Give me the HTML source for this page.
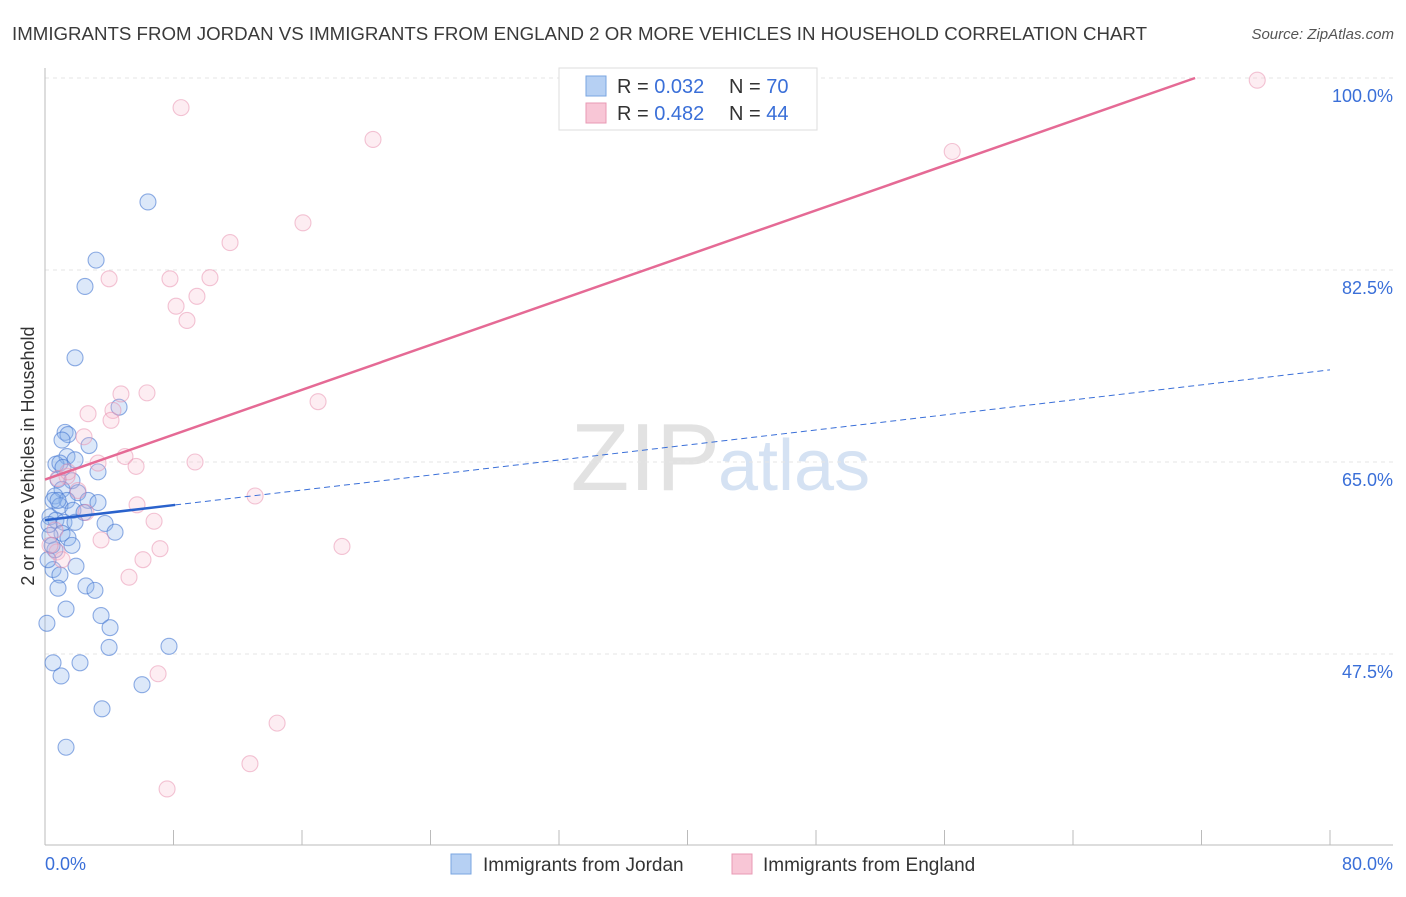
<!DOCTYPE html>
<html><head><meta charset="utf-8"><style>
body{margin:0;background:#fff;font-family:"Liberation Sans",sans-serif;}
svg text{font-family:"Liberation Sans",sans-serif;}
</style></head><body>
<svg id="c" width="1406" height="892">
<text x="12" y="40" font-size="18" fill="#3a3a3a" textLength="1135" lengthAdjust="spacingAndGlyphs">IMMIGRANTS FROM JORDAN VS IMMIGRANTS FROM ENGLAND 2 OR MORE VEHICLES IN HOUSEHOLD CORRELATION CHART</text>
<text x="1394" y="39" font-size="15" fill="#555" font-style="italic" text-anchor="end">Source: ZipAtlas.com</text>
<text x="720" y="490" font-size="96" fill="#e2e2e2" text-anchor="end" font-family="Liberation Serif">ZIP</text>
<text x="718" y="490" font-size="72" fill="#d5e2f3">atlas</text>
<g id="grid"></g><g id="axes"></g><g id="pts"></g><g id="lines"></g>
<text transform="translate(34,456) rotate(-90)" font-size="18" fill="#333" text-anchor="middle">2 or more Vehicles in Household</text>
<g>
<rect x="559" y="68" width="258" height="62" fill="#fff" stroke="#ddd"/>
<rect x="586" y="76" width="20" height="20" fill="#b6d0f3" stroke="#7aa6e0"/>
<rect x="586" y="103" width="20" height="20" fill="#f8c6d6" stroke="#e89ab4"/>
<text x="617" y="93" font-size="20" fill="#333">R = <tspan fill="#3a6fd8">0.032</tspan></text>
<text x="729" y="93" font-size="20" fill="#333">N = <tspan fill="#3a6fd8">70</tspan></text>
<text x="617" y="120" font-size="20" fill="#333">R = <tspan fill="#3a6fd8">0.482</tspan></text>
<text x="729" y="120" font-size="20" fill="#333">N = <tspan fill="#3a6fd8">44</tspan></text>
</g>
<g>
<rect x="451" y="854" width="20" height="20" fill="#b6d0f3" stroke="#7aa6e0"/>
<text x="483" y="871" font-size="19" fill="#333">Immigrants from Jordan</text>
<rect x="732" y="854" width="20" height="20" fill="#f8c6d6" stroke="#e89ab4"/>
<text x="763" y="871" font-size="19" fill="#333">Immigrants from England</text>
</g>
</svg>
<script>
const yTicks=[47.5,65.0,82.5,100.0];
const xTickLabels=["0.0%","80.0%"];
const jordanX=[6.41,3.18,2.49,1.87,4.61,1.25,1.43,1.06,2.74,1.37,1.87,0.68,0.93,3.30,0.81,1.68,1.06,2.05,0.62,1.37,0.50,2.68,3.30,0.93,1.74,2.43,0.31,0.68,1.18,1.87,0.25,3.74,4.36,1.06,0.31,1.43,1.68,0.62,1.93,0.50,0.93,2.55,0.81,3.11,1.31,3.49,4.05,0.12,7.72,3.99,0.50,2.18,1.00,6.04,3.55,1.31,0.81,0.19,0.44,1.12];
const jordanY=[88.7,83.4,81.0,74.5,70.0,67.7,67.5,67.0,66.5,65.5,65.2,64.8,64.9,64.1,63.4,63.3,62.5,62.2,61.9,61.5,61.5,61.5,61.3,61.0,60.6,60.4,60.0,59.7,59.5,59.5,59.3,59.4,58.6,58.5,58.3,58.1,57.4,57.0,55.5,55.2,54.7,53.7,53.5,53.3,51.6,51.0,49.9,50.3,48.2,48.1,46.7,46.7,45.5,44.7,42.5,39.0,61.5,56.1,57.4,64.5];
const englandX=[75.47,8.47,20.42,56.48,16.06,11.52,3.99,7.78,10.27,9.46,8.16,8.84,4.73,6.35,17.0,2.68,4.23,4.11,2.43,3.30,4.98,5.67,9.34,1.37,0.81,13.08,5.73,2.55,6.79,0.62,3.49,7.16,0.75,18.49,6.10,5.23,7.04,14.45,12.76,7.60,1.43,2.05,1.06,0.31];
const englandY=[99.8,97.3,94.4,93.3,86.8,85.0,81.7,81.7,81.8,80.1,79.2,77.9,71.2,71.3,70.5,69.4,69.7,68.8,67.3,64.9,65.5,64.6,65.0,63.7,63.5,61.9,61.1,60.4,59.6,58.8,57.9,57.1,56.8,57.3,56.1,54.5,45.7,41.2,37.5,35.2,64.1,62.4,56.1,57.4];
const jordanTrend=[59.7,73.4];
const jordanSolidEnd=8.1;
const englandTrend=[63.4,100.0,71.6];
const NS="http://www.w3.org/2000/svg";
const X=v=>45+v*(1285/80);
const Y=v=>462-(v-65)*(192/17.5);
function mk(tag,attrs,parent){const e=document.createElementNS(NS,tag);for(const k in attrs)e.setAttribute(k,attrs[k]);document.getElementById(parent).appendChild(e);return e;}
yTicks.forEach(t=>{
  const g=mk('line',{x1:45,x2:1393,y1:Y(t),y2:Y(t),stroke:'#e6e6e6','stroke-dasharray':'4,4'},'grid');
  
  
  const tx=mk('text',{x:1393,y:Y(t)+24,'font-size':18,fill:'#3a6fd8','text-anchor':'end'},'grid');
  tx.textContent=t.toFixed(1)+'%';
  
  
});
const ax=mk('line',{x1:45,x2:45,y1:68,y2:845,stroke:'#bbb'},'axes');


const bx=mk('line',{x1:45,x2:1393,y1:845,y2:845,stroke:'#bbb'},'axes');


for(let i=1;i<=10;i++){
  const t=mk('line',{x1:X(i*8),x2:X(i*8),y1:830,y2:845,stroke:'#bbb'},'axes');
  
  
}
[[0,'start',xTickLabels[0]],[80,'end',xTickLabels[1]]].forEach(([v,a,l])=>{
  const t=mk('text',{x:v===0?45:1393,y:870,'font-size':18,fill:'#3a6fd8','text-anchor':a},'axes');
  t.textContent=l;
  
  
});
jordanX.forEach((x,i)=>{
  const c=mk('circle',{cx:X(x),cy:Y(jordanY[i]),r:8,fill:'rgba(140,180,235,0.3)',stroke:'rgba(70,120,210,0.6)','stroke-width':1.1},'pts');
  
  
});
englandX.forEach((x,i)=>{
  const c=mk('circle',{cx:X(x),cy:Y(englandY[i]),r:8,fill:'rgba(248,185,205,0.25)',stroke:'rgba(232,140,172,0.5)','stroke-width':1.1},'pts');
  
  
});
const jy=x=>jordanTrend[0]+(jordanTrend[1]-jordanTrend[0])*x/80;
const l1=mk('line',{x1:X(jordanSolidEnd),y1:Y(jy(jordanSolidEnd)),x2:X(80),y2:Y(jy(80)),stroke:'#3a6fd8','stroke-width':1,'stroke-dasharray':'6,4'},'lines');


const l2=mk('line',{x1:X(0),y1:Y(jy(0)),x2:X(jordanSolidEnd),y2:Y(jy(jordanSolidEnd)),stroke:'#2a62cc','stroke-width':2.5},'lines');


const l3=mk('line',{x1:X(0),y1:Y(englandTrend[0]),x2:X(englandTrend[2]),y2:Y(englandTrend[1]),stroke:'#e56a95','stroke-width':2.5},'lines');


</script>
</body></html>
